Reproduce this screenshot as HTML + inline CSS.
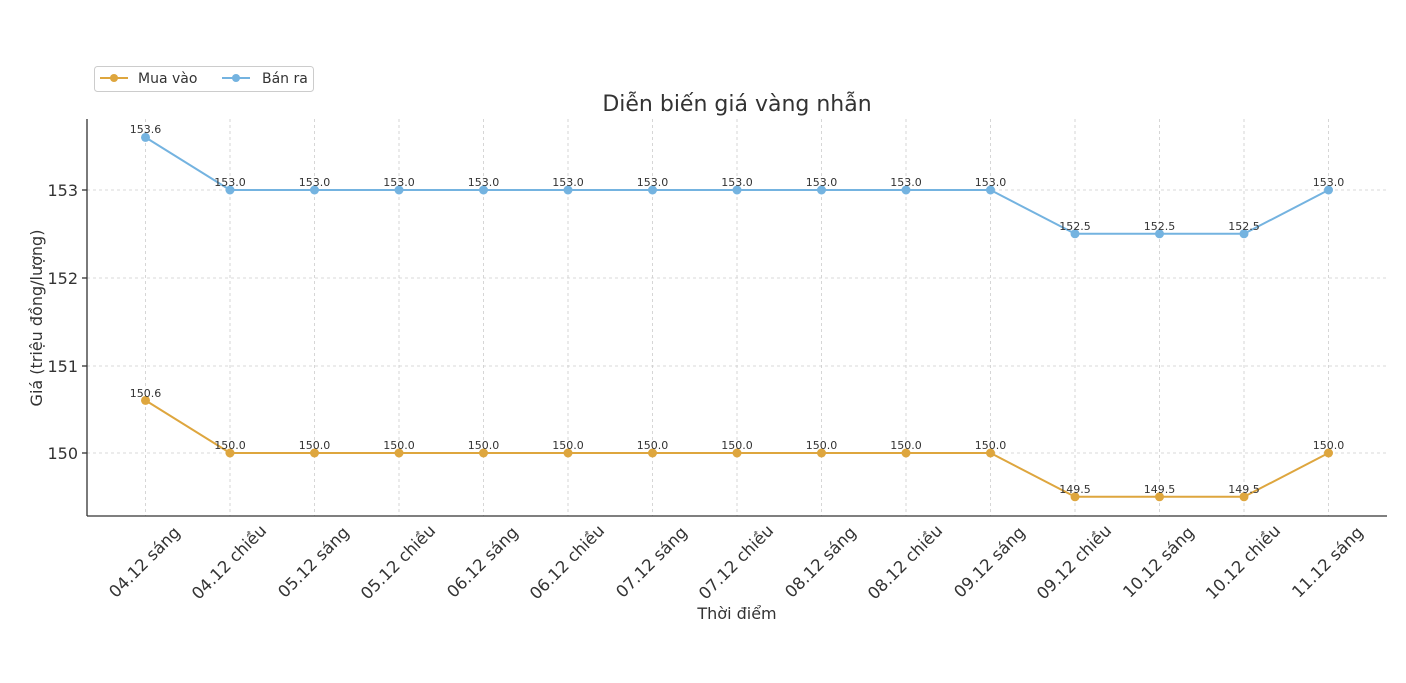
<!DOCTYPE html>
<html><head><meta charset="utf-8"><style>
body{margin:0;background:#fff}
text{font-family:"DejaVu Sans","Liberation Sans",sans-serif;fill:#333}
</style></head><body>
<svg width="1406" height="678" xmlns="http://www.w3.org/2000/svg">
<g stroke="#ccc" stroke-dasharray="3,3" stroke-width="0.8">
<line x1="145.5" y1="119" x2="145.5" y2="516"/><line x1="230" y1="119" x2="230" y2="516"/><line x1="314.5" y1="119" x2="314.5" y2="516"/><line x1="399" y1="119" x2="399" y2="516"/><line x1="483.5" y1="119" x2="483.5" y2="516"/><line x1="568" y1="119" x2="568" y2="516"/><line x1="652.5" y1="119" x2="652.5" y2="516"/><line x1="737" y1="119" x2="737" y2="516"/><line x1="821.5" y1="119" x2="821.5" y2="516"/><line x1="906" y1="119" x2="906" y2="516"/><line x1="990.5" y1="119" x2="990.5" y2="516"/><line x1="1075" y1="119" x2="1075" y2="516"/><line x1="1159.5" y1="119" x2="1159.5" y2="516"/><line x1="1244" y1="119" x2="1244" y2="516"/><line x1="1328.5" y1="119" x2="1328.5" y2="516"/>
<line x1="87" y1="190" x2="1387" y2="190"/><line x1="87" y1="278" x2="1387" y2="278"/><line x1="87" y1="366" x2="1387" y2="366"/><line x1="87" y1="453" x2="1387" y2="453"/>
</g>
<g stroke="#333" stroke-width="1.3"><line x1="87" y1="119" x2="87" y2="516"/><line x1="87" y1="516" x2="1387" y2="516"/>
<line x1="82" y1="190" x2="87" y2="190"/><line x1="82" y1="278" x2="87" y2="278"/><line x1="82" y1="366" x2="87" y2="366"/><line x1="82" y1="453" x2="87" y2="453"/></g>
<g font-size="16" text-anchor="end"><text x="78" y="196">153</text><text x="78" y="284">152</text><text x="78" y="372">151</text><text x="78" y="459">150</text></g>
<polyline fill="none" stroke="#74b3e0" stroke-width="2" points="145.5,137.4 230,190 314.5,190 399,190 483.5,190 568,190 652.5,190 737,190 821.5,190 906,190 990.5,190 1075,233.8 1159.5,233.8 1244,233.8 1328.5,190"/>
<polyline fill="none" stroke="#dea63e" stroke-width="2" points="145.5,400.4 230,453 314.5,453 399,453 483.5,453 568,453 652.5,453 737,453 821.5,453 906,453 990.5,453 1075,496.8 1159.5,496.8 1244,496.8 1328.5,453"/>
<g fill="#74b3e0"><circle cx="145.5" cy="137.4" r="4.5"/><circle cx="230" cy="190" r="4.5"/><circle cx="314.5" cy="190" r="4.5"/><circle cx="399" cy="190" r="4.5"/><circle cx="483.5" cy="190" r="4.5"/><circle cx="568" cy="190" r="4.5"/><circle cx="652.5" cy="190" r="4.5"/><circle cx="737" cy="190" r="4.5"/><circle cx="821.5" cy="190" r="4.5"/><circle cx="906" cy="190" r="4.5"/><circle cx="990.5" cy="190" r="4.5"/><circle cx="1075" cy="233.8" r="4.5"/><circle cx="1159.5" cy="233.8" r="4.5"/><circle cx="1244" cy="233.8" r="4.5"/><circle cx="1328.5" cy="190" r="4.5"/></g>
<g fill="#dea63e"><circle cx="145.5" cy="400.4" r="4.5"/><circle cx="230" cy="453" r="4.5"/><circle cx="314.5" cy="453" r="4.5"/><circle cx="399" cy="453" r="4.5"/><circle cx="483.5" cy="453" r="4.5"/><circle cx="568" cy="453" r="4.5"/><circle cx="652.5" cy="453" r="4.5"/><circle cx="737" cy="453" r="4.5"/><circle cx="821.5" cy="453" r="4.5"/><circle cx="906" cy="453" r="4.5"/><circle cx="990.5" cy="453" r="4.5"/><circle cx="1075" cy="496.8" r="4.5"/><circle cx="1159.5" cy="496.8" r="4.5"/><circle cx="1244" cy="496.8" r="4.5"/><circle cx="1328.5" cy="453" r="4.5"/></g>
<g font-size="11" text-anchor="middle">
<text x="145.5" y="133">153.6</text><text x="230" y="186">153.0</text><text x="314.5" y="186">153.0</text><text x="399" y="186">153.0</text><text x="483.5" y="186">153.0</text><text x="568" y="186">153.0</text><text x="652.5" y="186">153.0</text><text x="737" y="186">153.0</text><text x="821.5" y="186">153.0</text><text x="906" y="186">153.0</text><text x="990.5" y="186">153.0</text><text x="1075" y="230">152.5</text><text x="1159.5" y="230">152.5</text><text x="1244" y="230">152.5</text><text x="1328.5" y="186">153.0</text>
<text x="145.5" y="397">150.6</text><text x="230" y="449">150.0</text><text x="314.5" y="449">150.0</text><text x="399" y="449">150.0</text><text x="483.5" y="449">150.0</text><text x="568" y="449">150.0</text><text x="652.5" y="449">150.0</text><text x="737" y="449">150.0</text><text x="821.5" y="449">150.0</text><text x="906" y="449">150.0</text><text x="990.5" y="449">150.0</text><text x="1075" y="493">149.5</text><text x="1159.5" y="493">149.5</text><text x="1244" y="493">149.5</text><text x="1328.5" y="449">150.0</text>
</g>
<g font-size="16.5" text-anchor="middle">
<text transform="translate(148.5,566) rotate(-45)">04.12 sáng</text>
<text transform="translate(233,566) rotate(-45)">04.12 chiều</text>
<text transform="translate(317.5,566) rotate(-45)">05.12 sáng</text>
<text transform="translate(402,566) rotate(-45)">05.12 chiều</text>
<text transform="translate(486.5,566) rotate(-45)">06.12 sáng</text>
<text transform="translate(571,566) rotate(-45)">06.12 chiều</text>
<text transform="translate(655.5,566) rotate(-45)">07.12 sáng</text>
<text transform="translate(740,566) rotate(-45)">07.12 chiều</text>
<text transform="translate(824.5,566) rotate(-45)">08.12 sáng</text>
<text transform="translate(909,566) rotate(-45)">08.12 chiều</text>
<text transform="translate(993.5,566) rotate(-45)">09.12 sáng</text>
<text transform="translate(1078,566) rotate(-45)">09.12 chiều</text>
<text transform="translate(1162.5,566) rotate(-45)">10.12 sáng</text>
<text transform="translate(1247,566) rotate(-45)">10.12 chiều</text>
<text transform="translate(1331.5,566) rotate(-45)">11.12 sáng</text>
</g>
<text x="737" y="619" font-size="16" text-anchor="middle">Thời điểm</text>
<text transform="translate(42,318) rotate(-90)" font-size="16" text-anchor="middle">Giá (triệu đồng/lượng)</text>
<text x="737" y="111" font-size="22" text-anchor="middle">Diễn biến giá vàng nhẫn</text>
<rect x="94.5" y="66.5" width="219" height="25" rx="3" fill="#fff" stroke="#ccc"/>
<line x1="100" y1="78" x2="128" y2="78" stroke="#dea63e" stroke-width="2"/><circle cx="114" cy="78" r="4" fill="#dea63e"/>
<text x="138" y="83" font-size="14">Mua vào</text>
<line x1="222" y1="78" x2="250" y2="78" stroke="#74b3e0" stroke-width="2"/><circle cx="236" cy="78" r="4" fill="#74b3e0"/>
<text x="262" y="83" font-size="14">Bán ra</text>
</svg>
</body></html>
